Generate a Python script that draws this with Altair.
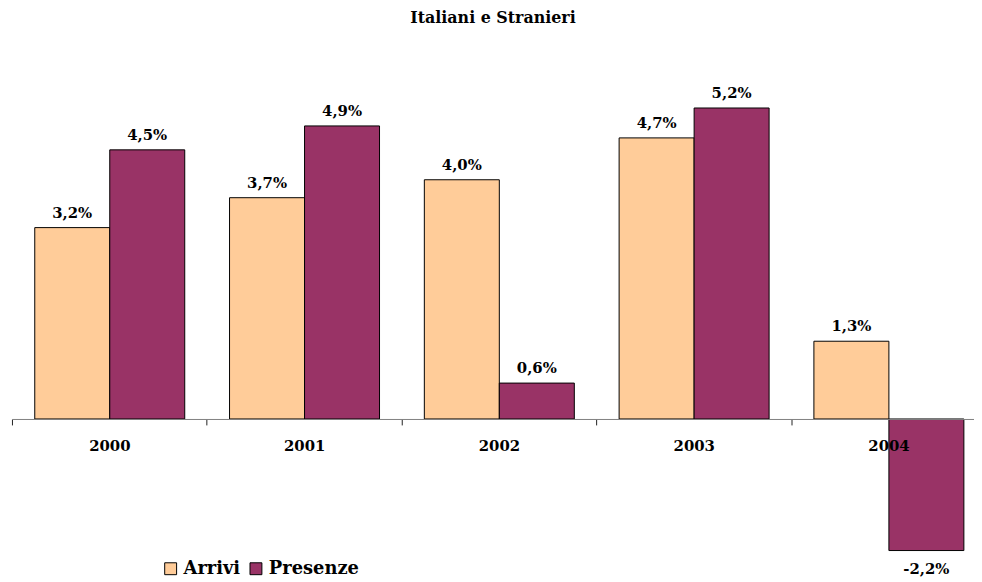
import altair as alt
import pandas as pd

years = ["2000", "2001", "2002", "2003", "2004"]
arrivi = [3.2, 3.7, 4.0, 4.7, 1.3]
presenze = [4.5, 4.9, 0.6, 5.2, -2.2]
series = ["Arrivi", "Presenze"]
colors = ["#FFCC99", "#993366"]

rows = []
for y, a, p in zip(years, arrivi, presenze):
    for s, v in zip(series, [a, p]):
        rows.append({"year": y, "series": s, "value": v,
                     "label": f"{v:.1f}".replace(".", ",") + "%"})
df = pd.DataFrame(rows)

FONT = "DejaVu Serif"
W, H = 970, 536
ppu = 60.3
zero_px = 382
ymax = zero_px / ppu
ymin = -(H - zero_px) / ppu

# horizontal layout in units of one category step (~196.4 px)
step = 196.4
x_max = round(W / step, 4)
gap = 0.117      # space before the first bar of a group
bw = 0.385       # one bar's width
yrs_js = "[" + ",".join(f"'{y}'" for y in years) + "]"
ser_js = "[" + ",".join(f"'{s}'" for s in series) + "]"

x_scale = alt.Scale(domain=[0, x_max], nice=False, zero=False)
x_axis = alt.Axis(
    title=None, orient="bottom", offset=-(H - zero_px),
    values=list(range(len(years))),
    labelExpr=f"{yrs_js}[datum.value]",
    labelAngle=0, labelFlush=False, labelOverlap=False,
    labelOffset=step / 2, labelPadding=14,
    domainColor="#808080", tickColor="#202020", tickSize=6,
    labelFont=FONT, labelFontSize=15, labelFontWeight="bold",
    labelColor="black", zindex=1, grid=False,
)
y_enc = alt.Y("value:Q", scale=alt.Scale(domain=[ymin, ymax], nice=False, zero=False),
              axis=None)

base = alt.Chart(df).transform_calculate(
    idx=f"indexof({yrs_js}, datum.year)",
    sidx=f"indexof({ser_js}, datum.series)",
).transform_calculate(
    x0=f"datum.idx + {gap} + datum.sidx * {bw}",
).transform_calculate(
    x1=f"datum.x0 + {bw}",
    xc=f"datum.x0 + {bw / 2}",
)

bars = base.mark_bar(stroke="black", strokeWidth=1).encode(
    x=alt.X("x0:Q", scale=x_scale, axis=x_axis),
    x2="x1:Q",
    y=y_enc, y2=alt.datum(0),
    color=alt.Color(
        "series:N",
        scale=alt.Scale(domain=series, range=colors),
        legend=alt.Legend(
            orient="none", legendX=151, legendY=524, direction="horizontal",
            title=None, symbolType="square", symbolSize=144,
            symbolStrokeColor="black", symbolStrokeWidth=1, symbolOpacity=1,
            labelFont=FONT, labelFontSize=18, labelFontWeight="bold",
            labelColor="black", columnPadding=6, labelOffset=4,
        ),
    ),
)

txt_kw = dict(font=FONT, fontSize=15, fontWeight="bold", color="black")
pos_txt = base.transform_filter("datum.value >= 0").mark_text(
    baseline="alphabetic", dy=-10, **txt_kw
).encode(x=alt.X("xc:Q", scale=x_scale), y=y_enc, text="label:N")
neg_txt = base.transform_filter("datum.value < 0").mark_text(
    baseline="top", dy=12, **txt_kw
).encode(x=alt.X("xc:Q", scale=x_scale), y=y_enc, text="label:N")

chart = alt.layer(bars, pos_txt, neg_txt).properties(
    width=W, height=H,
    title=alt.Title("Italiani e Stranieri", font=FONT, fontSize=16,
                    fontWeight="bold", color="black", anchor="middle", offset=14),
    autosize=alt.AutoSizeParams(type="none"),
    padding={"left": 4, "top": 30, "right": 0, "bottom": 8},
    background="white",
).configure_view(stroke=None)

chart.save("out.html", embed_options={"renderer": "svg", "actions": False})
